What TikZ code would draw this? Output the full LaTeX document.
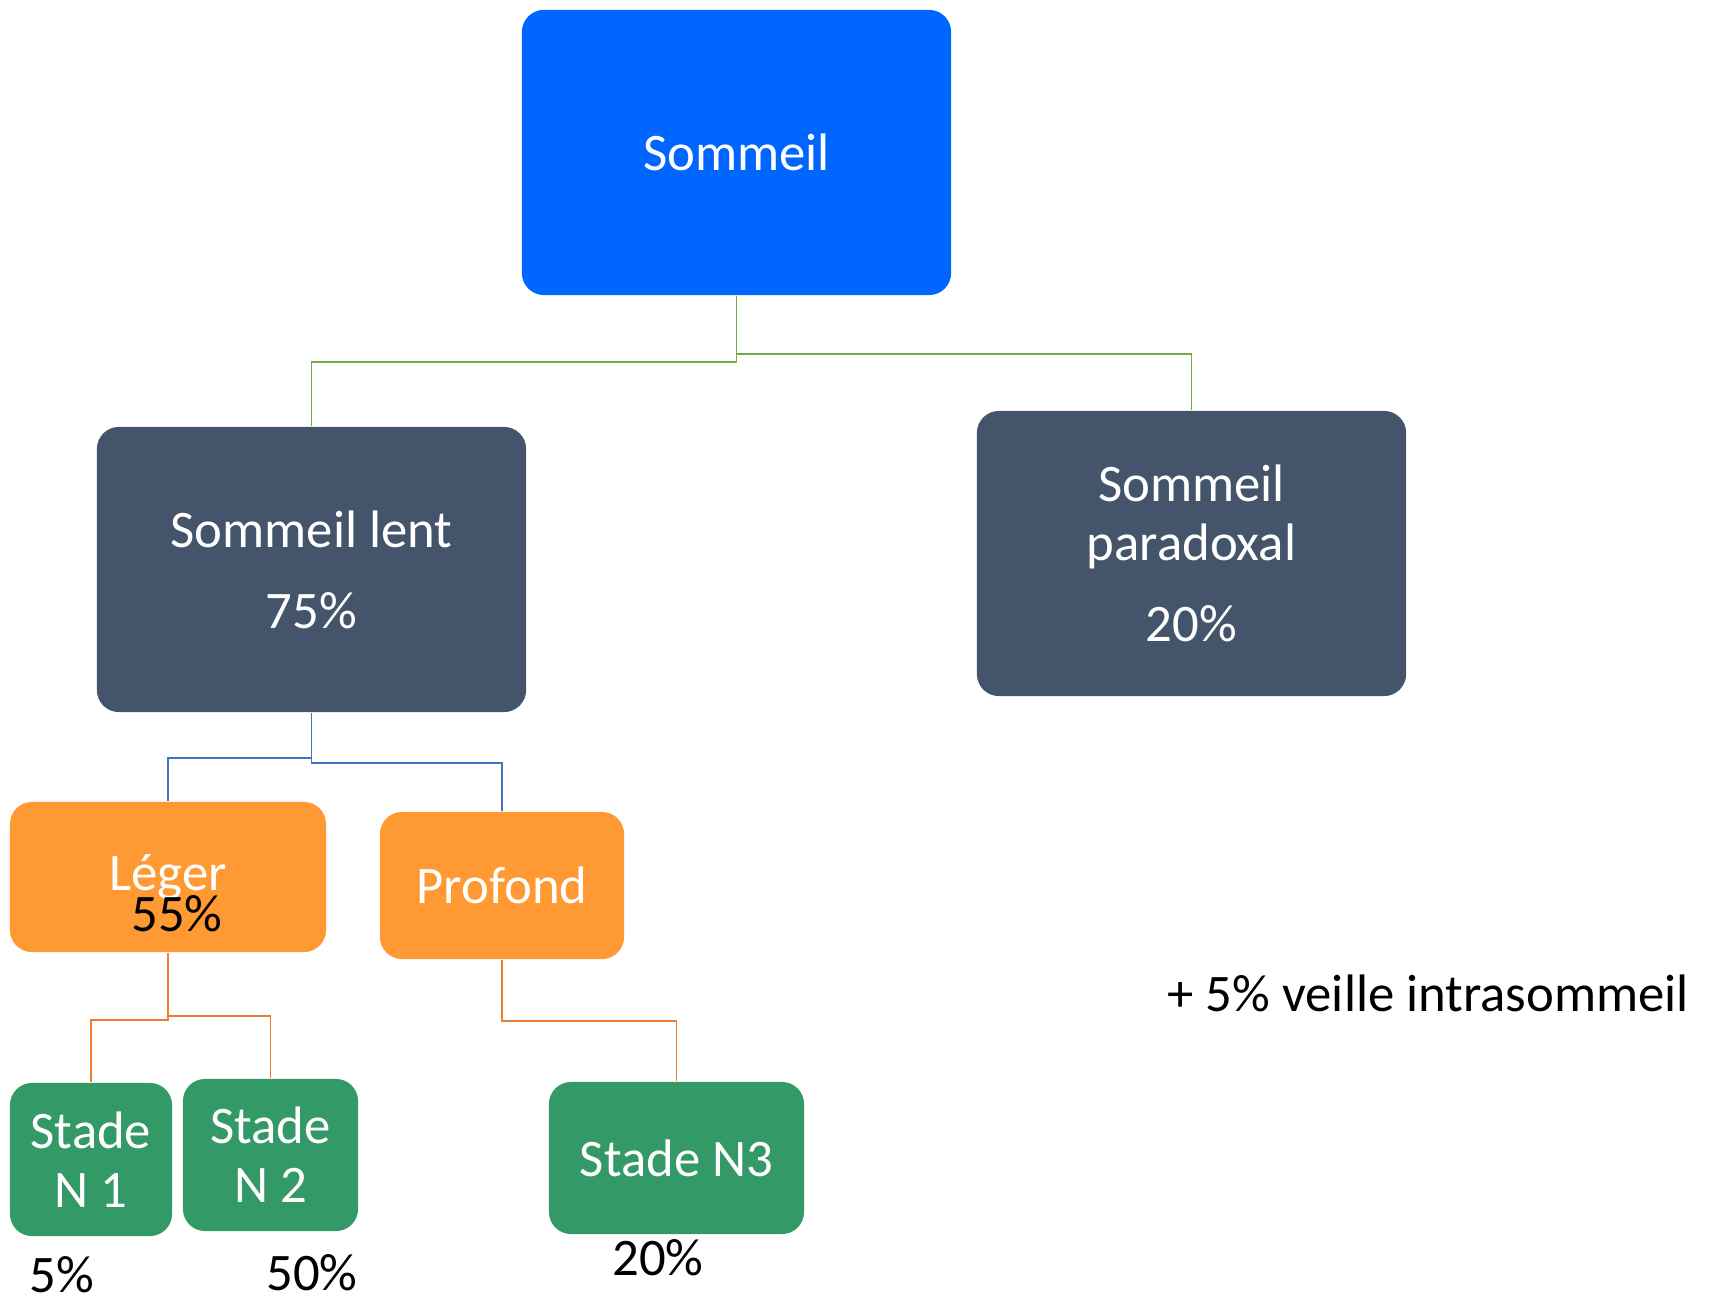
\documentclass[tikz,border=0pt]{standalone}
\usepackage{fontspec}
\setmainfont{Carlito}
\definecolor{topblue}{HTML}{0066FF}
\definecolor{slate}{HTML}{44546A}
\definecolor{orng}{HTML}{FF9933}
\definecolor{grn}{HTML}{339966}
\definecolor{lgreen}{HTML}{70AD47}
\definecolor{lblue}{HTML}{4472C4}
\definecolor{lorange}{HTML}{ED7D31}
\tikzset{
  box/.style={rectangle, rounded corners=0.22cm, text=white, align=center, inner sep=0pt,
    font=\fontsize{15}{16.8}\selectfont},
  lbl/.style={text=black, inner sep=0pt, font=\fontsize{15}{18}\selectfont},
  conn/.style={line width=0.5pt},
}
\begin{document}
\begin{tikzpicture}[x=0.01cm,y=-0.01cm]
\useasboundingbox (0,0) rectangle (1716,1301);
\node[box, fill=topblue, minimum width=4.29cm, minimum height=2.85cm] (som) at (736.5,152.5) {Sommeil};
\node[box, fill=slate, minimum width=4.29cm, minimum height=2.85cm] (lent) at (311.5,569.5) {Sommeil lent\\[6.2pt]75\%};
\node[box, fill=slate, minimum width=4.29cm, minimum height=2.85cm] (par) at (1191.5,553.5) {Sommeil\\paradoxal\\[6.2pt]20\%};
\node[box, fill=orng, minimum width=3.16cm, minimum height=1.50cm] (leg) at (168,877) {Léger};
\node[box, fill=orng, minimum width=2.44cm, minimum height=1.47cm] (pro) at (502,885.5) {Profond};
\node[box, fill=grn, minimum width=1.62cm, minimum height=1.53cm] (n1) at (91,1159.5) {Stade\\N 1};
\node[box, fill=grn, minimum width=1.75cm, minimum height=1.52cm] (n2) at (270.5,1155) {Stade\\N 2};
\node[box, fill=grn, minimum width=2.55cm, minimum height=1.52cm] (n3) at (676.5,1158) {Stade N3};

\node[lbl] (p55) at (177,914) {55\%};
\node[lbl] (p5) at (62,1275) {5\%};
\node[lbl] (p50) at (312,1273) {50\%};
\node[lbl] (p20) at (658,1258) {20\%};
\node[lbl, anchor=west] (veille) at (1167,993) {+ 5\% veille intrasommeil};

\draw[conn, lgreen] (som.south) -- ++(0,66) -| (lent.north);
\draw[conn, lgreen] (som.south) -- ++(0,58.5) -| (par.north);
\draw[conn, lblue] (lent.south) -- ++(0,45) -| (leg.north);
\draw[conn, lblue] (lent.south) -- ++(0,50) -| (pro.north);
\draw[conn, lorange] (leg.south) -- ++(0,67) -| (n1.north);
\draw[conn, lorange] (leg.south) -- ++(0,63.6) -| (n2.north);
\draw[conn, lorange] (pro.south) -- ++(0,61) -| (n3.north);
\end{tikzpicture}
\end{document}
